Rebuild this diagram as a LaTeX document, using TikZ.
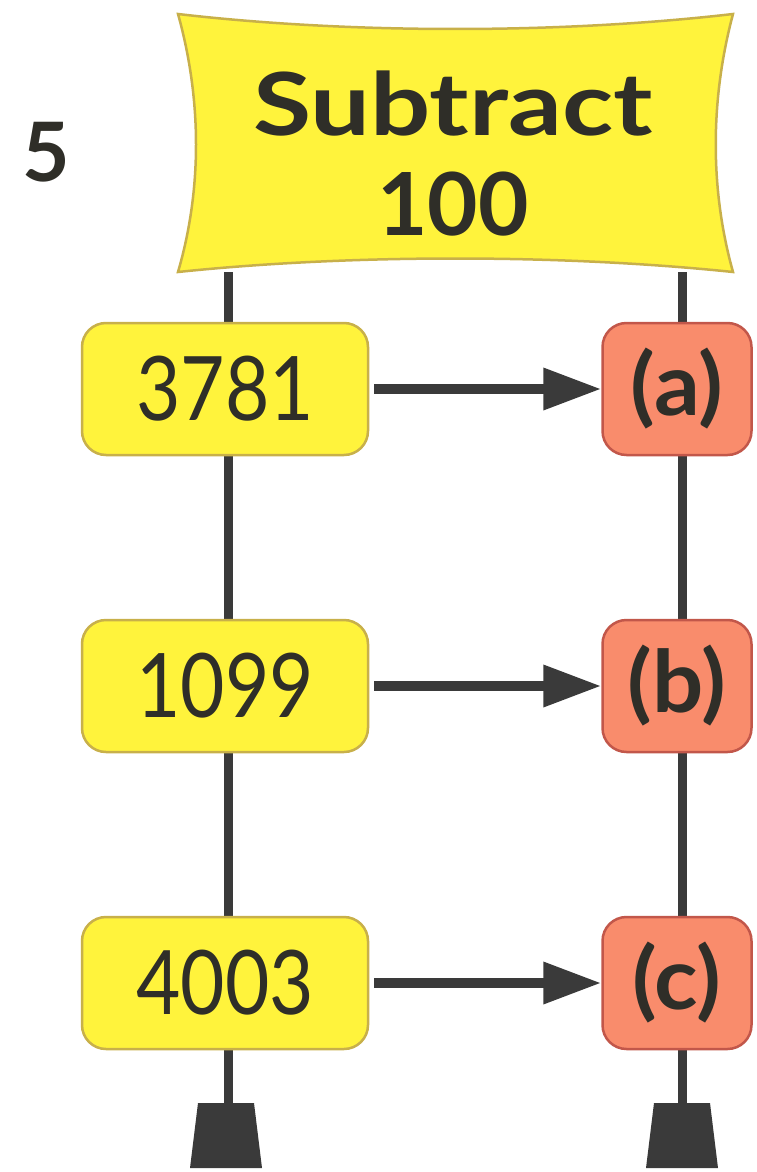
\documentclass[tikz,border=0pt]{standalone}
\usepackage{fontspec}
\setmainfont{Lato}
\newfontfamily\widefont[FakeStretch=1.22]{Lato}
\newfontfamily\narrowfont[FakeStretch=0.86]{Lato}
\newfontfamily\tagfont[FakeStretch=1.05]{Lato}
\usetikzlibrary{arrows.meta}

\definecolor{signyellow}{HTML}{FFF33C}
\definecolor{signedge}{HTML}{C8B04A}
\definecolor{ansfill}{HTML}{F98C6C}
\definecolor{ansedge}{HTML}{C2574A}
\definecolor{ink}{HTML}{2F2E28}
\definecolor{postcol}{HTML}{3A3A3A}

\begin{document}
\begin{tikzpicture}[x=1pt,y=-1pt,
  inbox/.style={draw=signedge, fill=signyellow, line width=2.5pt, rounded corners=24pt,
    minimum width=286pt, minimum height=132pt, inner sep=0pt,
    font=\narrowfont\fontsize{89}{89}\selectfont, text=ink},
  outbox/.style={draw=ansedge, fill=ansfill, line width=2.5pt, rounded corners=24pt,
    minimum width=149pt, minimum height=132pt, inner sep=0pt,
    font=\tagfont\bfseries\fontsize{86}{86}\selectfont, text=ink},
  post/.style={draw=postcol, line width=9pt},
  link/.style={draw=postcol, line width=10pt, -{Triangle[length=58pt,width=40pt]}, shorten <=5pt},
  foot/.style={fill=postcol}]
\useasboundingbox (0,0) rectangle (756,1172);

% posts of the two sign stands
\coordinate (ltop) at (228,272);
\coordinate (lbot) at (228,1106);
\coordinate (rtop) at (682,272);
\coordinate (rbot) at (682,1106);
\draw[post] (ltop) -- (lbot);
\draw[post] (rtop) -- (rbot);

% weighted feet
\fill[foot] (198,1103) -- (254,1103) -- (262,1168) -- (190,1168) -- cycle;
\fill[foot] (654,1103) -- (710,1103) -- (718,1168) -- (646,1168) -- cycle;

% banner on top of the posts
\filldraw[fill=signyellow, draw=signedge, line width=2.5pt]
  (178,14) .. controls (350,34) and (560,34) .. (733,14)
  .. controls (710,100) and (710,190) .. (733,272)
  .. controls (560,254) and (350,254) .. (178,272)
  .. controls (202,190) and (202,100) .. cycle;
\node[text=ink, align=center, inner sep=0pt,
      font=\bfseries\fontsize{87}{100}\selectfont] (title) at (453,154)
  {{\widefont Subtract}\\100};
\node[font=\bfseries\fontsize{82}{82}\selectfont, text=ink] (num) at (46,152) {5};

% inputs and answers
\node[inbox] (in1) at (225,389) {3781};
\node[inbox] (in2) at (225,686) {1099};
\node[inbox] (in3) at (225,983) {4003};
\node[outbox] (out1) at (677,389) {(a)};
\node[outbox] (out2) at (677,686) {(b)};
\node[outbox] (out3) at (677,983) {(c)};

\draw[link] (in1) -- (out1);
\draw[link] (in2) -- (out2);
\draw[link] (in3) -- (out3);
\end{tikzpicture}
\end{document}
